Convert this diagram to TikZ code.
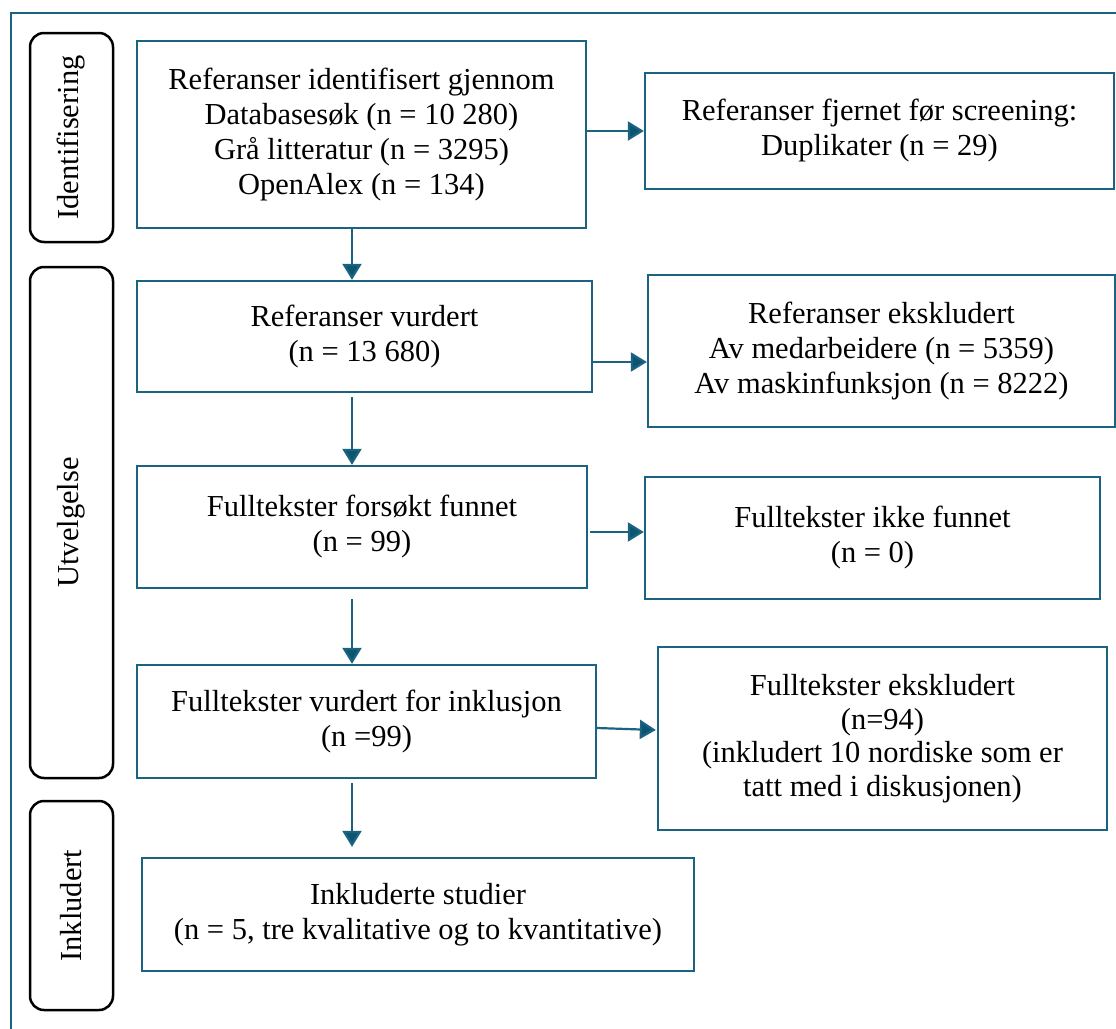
\documentclass[tikz,border=0pt]{standalone}
\usepackage{fontspec}
\setmainfont{Liberation Serif}
\usetikzlibrary{arrows.meta}
\definecolor{tealline}{HTML}{1B6380}
\definecolor{tealhead}{HTML}{0B5570}
\begin{document}
\begin{tikzpicture}[x=1pt,y=-1pt,
  txt/.style={font=\fontsize{30.5}{35}\selectfont},
  box/.style={txt,draw=tealline,line width=2.3pt,rectangle,inner sep=0pt,align=center},
  stage/.style={txt,draw=black,line width=2.5pt,rectangle,rounded corners=14pt,inner sep=0pt,rotate=90},
  arr/.style={draw=tealline,line width=2.2pt,-{Triangle[width=19pt,length=16pt,fill=tealhead]}}]
\useasboundingbox (0,0) rectangle (1116,1028);
% outer frame (cropped at right and bottom)
\draw[tealline,line width=2pt] (11,1040) -- (11,13) -- (1130,13);

% stage labels
\node[stage,minimum width=209pt,minimum height=83pt] (s1) at (71.5,137.5) {Identifisering};
\node[stage,minimum width=511pt,minimum height=83pt] (s2) at (71.5,522.5) {Utvelgelse};
\node[stage,minimum width=209pt,minimum height=83pt] (s3) at (71.5,905.5) {Inkludert};

% boxes
\node[box,minimum width=449pt,minimum height=187pt] (A) at (361.5,134.5)
  {Referanser identifisert gjennom\\Databasesøk (n = 10 280)\\Grå litteratur (n = 3295)\\OpenAlex (n = 134)};
\node[box,minimum width=469pt,minimum height=116pt] (B) at (879.5,131)
  {Referanser fjernet før screening:\\Duplikater (n = 29)};
\node[box,minimum width=455pt,minimum height=111pt] (C) at (364.5,336.5)
  {Referanser vurdert\\(n = 13 680)};
\node[box,minimum width=467pt,minimum height=152pt] (D) at (881.5,351)
  {Referanser ekskludert\\Av medarbeidere (n = 5359)\\Av maskinfunksjon (n = 8222)};
\node[box,minimum width=450pt,minimum height=122pt] (E) at (362,527)
  {Fulltekster forsøkt funnet\\(n = 99)};
\node[box,minimum width=455pt,minimum height=122pt] (F) at (872.5,538)
  {Fulltekster ikke funnet\\(n = 0)};
\node[box,minimum width=459pt,minimum height=113pt] (G) at (366.5,721.5)
  {Fulltekster vurdert for inklusjon\\(n =99)};
\node[box,minimum width=449pt,minimum height=183pt,font=\fontsize{30.5}{33.5}\selectfont] (H) at (882.5,738.5)
  {Fulltekster ekskludert\\(n=94)\\(inkludert 10 nordiske som er\\tatt med i diskusjonen)};
\node[box,minimum width=552pt,minimum height=113pt] (I) at (418,914.5)
  {Inkluderte studier\\(n = 5, tre kvalitative og to kvantitative)};

% connectors
\coordinate (col) at (352,0);
\draw[arr] (A.south -| col) -- (C.north -| col);
\draw[arr,shorten <=4pt] (C.south -| col) -- (E.north -| col);
\draw[arr,shorten <=10pt] (E.south -| col) -- (G.north -| col);
\draw[arr,shorten <=4pt,shorten >=10pt] (G.south -| col) -- (I.north -| col);

\draw[arr] (A.east |- B.west) -- (B.west);
\path (C.east) ++(0,25.5) coordinate (cd);
\draw[arr] (cd) -- (cd -| D.west);
\path (E.east) ++(2,5) coordinate (ef);
\draw[arr] (ef) -- (ef -| F.west);
\path (G.east) ++(0,6.5) coordinate (g1);
\path (H.west) ++(-1,-8.5) coordinate (h1);
\draw[arr] (g1) -- (h1);
\end{tikzpicture}
\end{document}
